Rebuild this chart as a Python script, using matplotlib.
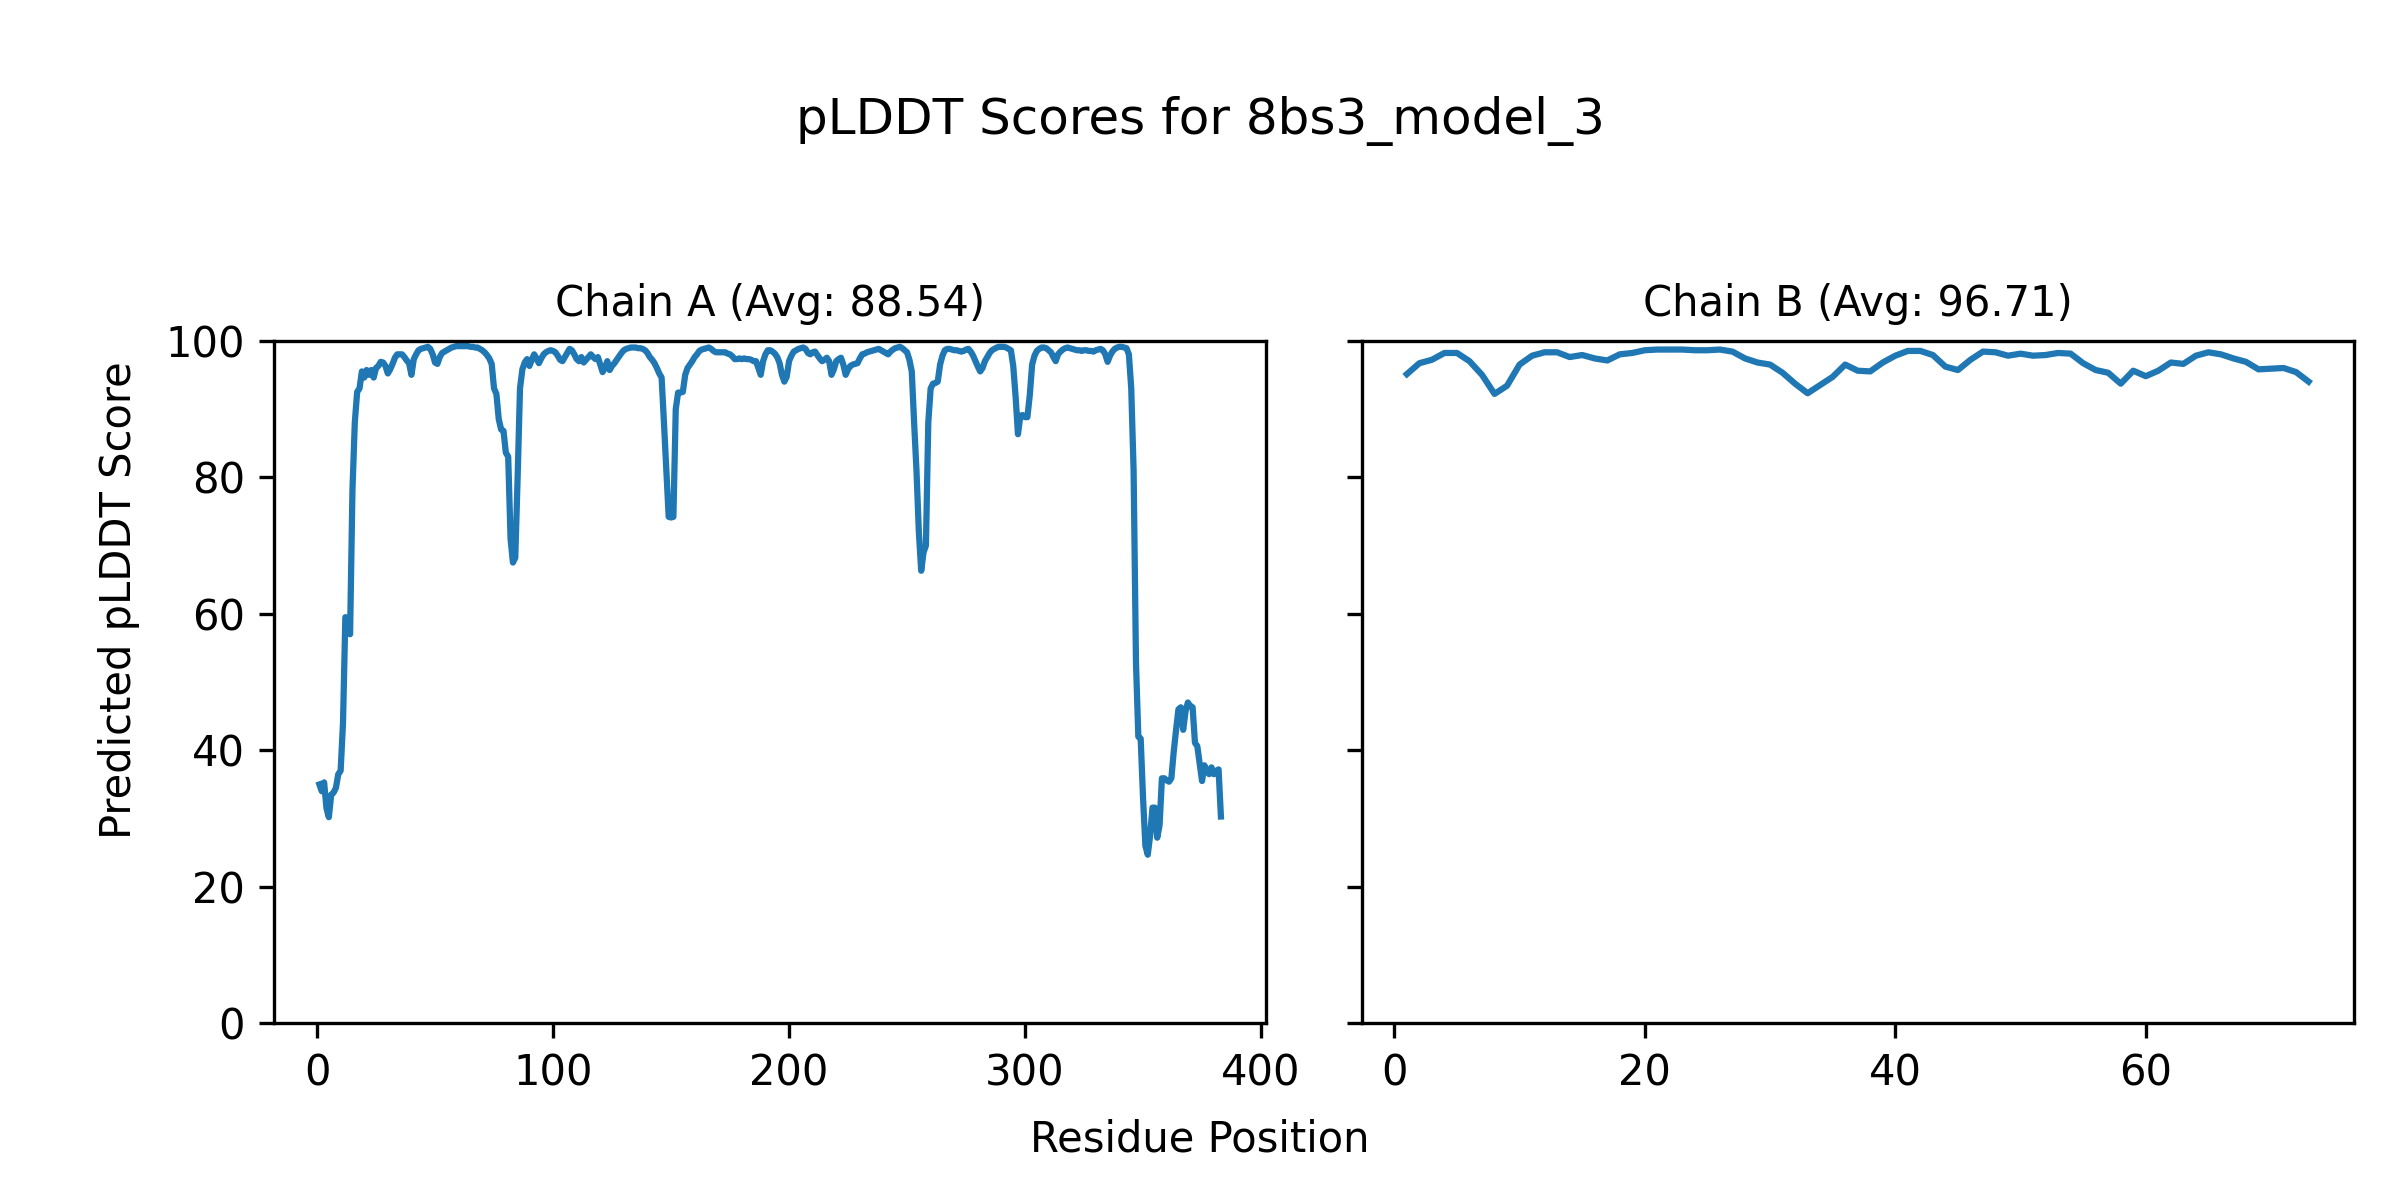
import matplotlib
matplotlib.use("Agg")
import matplotlib.pyplot as plt

# pLDDT por residuo, cadena A (383 residuos)
chain_a_scores = [
    35.0, 34.0, 35.3, 31.5, 30.2, 33.5, 33.8, 34.5, 36.5, 37.0,
    44.0, 59.5, 59.3, 57.0, 78.0, 88.0, 92.5, 93.0, 95.5, 94.6,
    95.7, 95.0, 95.7, 94.6, 96.0, 96.3, 96.9, 96.8, 96.3, 95.2,
    95.8, 96.6, 97.5, 98.0, 98.0, 98.0, 97.6, 97.1, 96.7, 95.0,
    97.3, 98.0, 98.6, 98.8, 98.9, 99.0, 99.1, 98.8, 98.0, 96.8,
    96.6, 97.6, 98.2, 98.4, 98.6, 98.8, 99.0, 99.1, 99.2, 99.2,
    99.2, 99.2, 99.2, 99.2, 99.1, 99.1, 99.0, 99.0, 98.8, 98.6,
    98.3, 97.9, 97.4, 96.6, 93.0, 92.2, 88.5, 87.0, 86.8, 83.6,
    83.0, 71.0, 67.5, 68.2, 80.0, 93.0, 95.8, 96.8, 97.3, 96.3,
    97.2, 98.0, 97.4, 96.7, 97.4, 98.0, 98.3, 98.5, 98.6, 98.5,
    98.3, 97.8, 97.2, 97.0, 97.6, 98.2, 98.8, 98.6, 98.0, 97.3,
    97.0, 97.6, 96.8, 97.2, 97.6, 98.0, 97.6, 97.3, 97.6, 96.5,
    95.4, 96.0, 97.0, 95.7, 96.3, 96.7, 97.2, 97.7, 98.2, 98.6,
    98.8, 98.9, 99.0, 99.0, 99.0, 98.9, 98.9, 98.8, 98.6, 98.2,
    97.6, 97.2, 96.7, 96.0, 95.2, 94.6, 88.0, 81.0, 74.2, 74.1,
    74.2, 90.0, 92.4, 92.4, 92.5, 95.0, 96.0, 96.5, 97.0, 97.6,
    98.0, 98.5, 98.7, 98.8, 98.9, 99.0, 98.8, 98.5, 98.3, 98.3,
    98.3, 98.3, 98.3, 98.1, 98.0, 97.7, 97.3, 97.3, 97.4, 97.3,
    97.4, 97.3, 97.3, 97.2, 97.0, 97.0, 96.0, 95.0, 97.0, 98.0,
    98.6, 98.6, 98.4, 98.1, 97.6, 96.7, 95.0, 94.0, 94.7, 97.0,
    97.8, 98.4, 98.6, 98.8, 98.9, 99.0, 98.8, 98.2, 98.0, 98.3,
    98.4, 97.9, 97.4, 97.0, 97.2, 97.5, 97.0, 95.0, 95.8, 97.0,
    97.3, 97.5, 96.5, 95.0, 95.8, 96.3, 96.5, 96.6, 96.7, 97.4,
    98.0, 98.1, 98.3, 98.4, 98.5, 98.6, 98.7, 98.8, 98.6, 98.4,
    98.2, 98.0, 98.4, 98.7, 98.9, 99.0, 99.1, 98.9, 98.6, 98.3,
    97.2, 95.5, 88.0, 81.0, 72.0, 66.3, 69.0, 70.0, 88.0, 93.0,
    93.7, 93.8, 94.0, 96.5, 97.8, 98.6, 98.8, 98.8, 98.7, 98.6,
    98.6, 98.5, 98.4, 98.5, 98.7, 98.8, 98.4, 97.8, 97.0, 96.2,
    95.5, 96.0, 97.0, 97.6, 98.2, 98.6, 98.8, 99.0, 99.1, 99.1,
    99.1, 99.0, 98.8, 98.6, 96.3, 91.8, 86.3, 89.0, 89.1, 88.8,
    88.8, 92.0, 96.5, 97.8, 98.5, 98.8, 99.0, 99.0, 98.9, 98.6,
    98.3, 97.6, 97.0, 98.0, 98.4, 98.7, 98.9, 99.0, 98.9, 98.8,
    98.7, 98.6, 98.6, 98.5, 98.6, 98.6, 98.5, 98.5, 98.4, 98.6,
    98.7, 98.8, 98.6, 98.0, 96.9, 97.8, 98.4, 98.8, 99.0, 99.1,
    99.1, 99.0, 98.9, 98.0, 93.0, 81.0, 53.0, 42.0, 41.7, 33.0,
    26.0, 24.7, 27.5, 31.6, 31.6, 27.2, 29.0, 35.9, 35.9, 35.6,
    35.4, 35.9, 39.8, 43.0, 46.0, 46.3, 43.0, 45.7, 47.0, 46.5,
    46.3, 41.1, 40.6, 38.0, 35.5, 37.8, 37.0, 36.5, 37.5, 36.5,
    37.0, 37.2, 30.3,
]

# pLDDT por residuo, cadena B (73 residuos)
chain_b_scores = [
    95.1, 96.7, 97.2, 98.2, 98.2, 97.0, 95.0, 92.2, 93.4, 96.5,
    97.8, 98.3, 98.3, 97.6, 97.9, 97.4, 97.1, 98.0, 98.2, 98.6,
    98.7, 98.7, 98.7, 98.6, 98.6, 98.7, 98.4, 97.4, 96.8, 96.5,
    95.3, 93.7, 92.3, 93.5, 94.7, 96.5, 95.6, 95.5, 96.8, 97.8,
    98.5, 98.5, 97.9, 96.2, 95.7, 97.2, 98.4, 98.3, 97.8, 98.1,
    97.8, 97.9, 98.2, 98.1, 96.7, 95.7, 95.3, 93.7, 95.6, 94.8,
    95.6, 96.8, 96.6, 97.8, 98.3, 98.0, 97.4, 96.9, 95.8, 95.9,
    96.0, 95.4, 94.0,
]

chain_names = ["A", "B"]
chain_avgs = [88.54, 96.71]
model_name = "8bs3_model_3"


def draw_plddt(chains, names, avgs, graph_name):
    fig = plt.figure(figsize=(8, 4), dpi=300)
    ax_a = fig.add_axes([0.1143, 0.1472, 0.4132, 0.5689])
    ax_b = fig.add_axes([0.5674, 0.1472, 0.4133, 0.5689], sharey=ax_a)
    for ax, scores, name, avg in zip([ax_a, ax_b], chains, names, avgs):
        residues = list(range(1, len(scores) + 1))
        ax.plot(residues, scores)
        ax.set_title(f"Chain {name} (Avg: {avg:.2f})", fontsize=10)
    ax_a.set_ylim(0, 100)
    plt.setp(ax_b.get_yticklabels(), visible=False)
    fig.suptitle(f"pLDDT Scores for {model_name}", fontsize=12, y=0.92)
    # etiquetas comunes a las dos cadenas
    fig.text(0.5, 0.0403, "Residue Position", ha="center", va="baseline")
    fig.text(0.0496, 0.5, "Predicted pLDDT Score", rotation=90,
             ha="center", va="center")
    fig.savefig(graph_name)


draw_plddt([chain_a_scores, chain_b_scores], chain_names, chain_avgs, "out.png")
